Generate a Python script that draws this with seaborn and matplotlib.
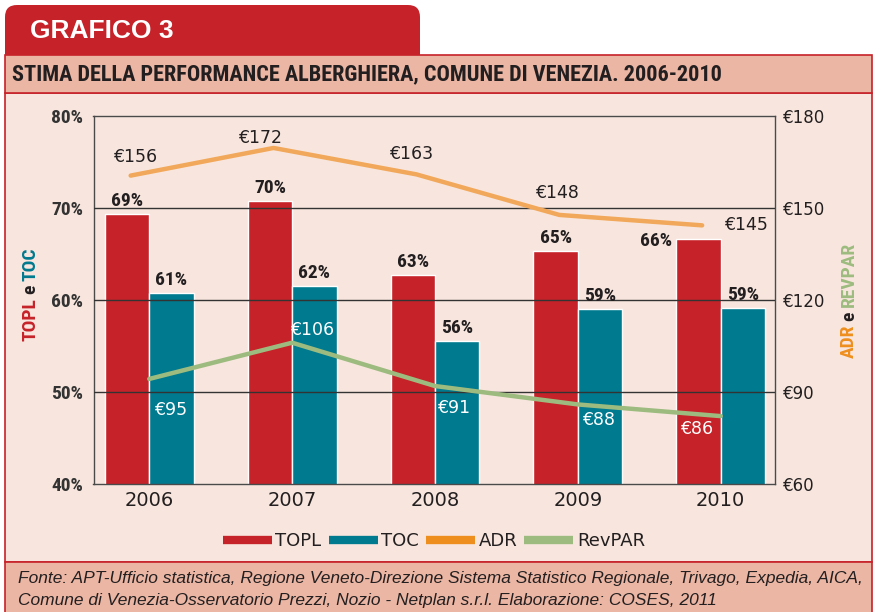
import numpy as np
import pandas as pd
import matplotlib
matplotlib.use("Agg")
import matplotlib.pyplot as plt
import seaborn as sns
from matplotlib.patches import Rectangle, FancyBboxPatch
from matplotlib.lines import Line2D

# ---- data ----
years = ["2006", "2007", "2008", "2009", "2010"]
topl = [69.3, 70.7, 62.7, 65.3, 66.6]
toc = [60.8, 61.5, 55.5, 59.0, 59.1]
adr = [160.5, 169.5, 160.9, 147.7, 144.3]
revpar = [94.3, 106.1, 92.0, 86.0, 82.2]
topl_labels = ["69%", "70%", "63%", "65%", "66%"]
toc_labels = ["61%", "62%", "56%", "59%", "59%"]
adr_labels = ["€156", "€172", "€163", "€148", "€145"]
revpar_labels = ["€95", "€106", "€91", "€88", "€86"]

RED = "#C62229"
TEAL = "#007A8F"
ORANGE = "#F2A85A"
ORANGE_LEG = "#EE8E1E"
GREEN = "#9DBB7F"
DARK = "#231F20"
BAND = "#EBB6A4"
PANEL = "#F8E6DE"

W, H = 874, 612
NARROW = ["Liberation Sans Narrow", "Roboto Condensed", "Liberation Sans", "DejaVu Sans"]
PLAIN = ["Liberation Sans", "DejaVu Sans"]

sns.set_style("white")
plt.rcParams["font.family"] = ["DejaVu Sans"]

fig = plt.figure(figsize=(W / 100, H / 100), dpi=100)
fig.patch.set_facecolor("white")
inch = fig.dpi_scale_trans


def box(x0, y0, x1, y1, **kw):
    # pixel coords, origin top-left
    r = Rectangle((x0 / 100, (H - y1) / 100), (x1 - x0) / 100, (y1 - y0) / 100,
                  transform=inch, zorder=-5, **kw)
    fig.add_artist(r)
    return r


# header tab (rounded), bands and panel
tab = FancyBboxPatch((5 / 100, (H - 70) / 100), 415 / 100, 65 / 100,
                     boxstyle="round,pad=0,rounding_size=0.12",
                     transform=inch, facecolor=RED, edgecolor="none", zorder=-6)
fig.add_artist(tab)
box(5, 93, 872, 562, facecolor=PANEL, edgecolor=RED, lw=1.2)
box(5, 55, 872, 93, facecolor=BAND, edgecolor=RED, lw=1.2)
box(5, 562, 872, 613, facecolor=BAND, edgecolor=RED, lw=1.2)

fig.text(30 / W, 1 - 31 / H, "GRAFICO 3", color="white", fontsize=19,
         fontweight="bold", family=PLAIN, ha="left", va="center")
fig.text(12 / W, 1 - 74 / H,
         "STIMA DELLA PERFORMANCE ALBERGHIERA, COMUNE DI VENEZIA. 2006-2010",
         color=DARK, fontsize=16, fontweight="bold", family=NARROW,
         ha="left", va="center")
fig.text(18 / W, 1 - 579 / H,
         "Fonte: APT-Ufficio statistica, Regione Veneto-Direzione Sistema Statistico "
         "Regionale, Trivago, Expedia, AICA,",
         color=DARK, fontsize=12.5, style="italic", family=PLAIN,
         ha="left", va="center")
fig.text(18 / W, 1 - 601 / H,
         "Comune di Venezia-Osservatorio Prezzi, Nozio - Netplan s.r.l. "
         "Elaborazione: COSES, 2011",
         color=DARK, fontsize=12.5, style="italic", family=PLAIN,
         ha="left", va="center")

# ---- main axes ----
ax = fig.add_axes([93.5 / W, 1 - 484.3 / H, (775 - 93.5) / W, (484.3 - 115.7) / H])
ax.patch.set_alpha(0)

df = pd.DataFrame({
    "year": years * 2,
    "value": topl + toc,
    "serie": ["TOPL"] * len(years) + ["TOC"] * len(years),
})
sns.barplot(data=df, x="year", y="value", hue="serie", palette=[RED, TEAL],
            width=0.622, saturation=1, ax=ax, zorder=1)
ax.get_legend().remove()
ax.set_ylim(40, 80)
ax.set_xlim(-0.39, 4.38)
ax.set_yticks([40, 50, 60, 70, 80])
ax.set_yticklabels([f"{v}%" for v in [40, 50, 60, 70, 80]])
ax.set_xlabel("")
ax.set_ylabel("")
for y in [50, 60, 70]:
    ax.axhline(y, color="#333333", lw=1.0, zorder=3)
for s in ax.spines.values():
    s.set_visible(True)
    s.set_color("#4a4a4a")
    s.set_linewidth(1.0)
ax.tick_params(axis="y", length=0, pad=7.5, labelsize=14, labelcolor="#333333")
ax.tick_params(axis="x", length=0, pad=5, labelsize=14, labelcolor=DARK)
for t in ax.get_yticklabels():
    t.set_fontweight("bold")
    t.set_family(NARROW)

# bar value labels
bar_offsets = {("TOPL", 4): (-42, -2)}
for cont, labs, name in [(ax.containers[0], topl_labels, "TOPL"),
                         (ax.containers[1], toc_labels, "TOC")]:
    for i, (p, lab) in enumerate(zip(cont, labs)):
        dx, dy = bar_offsets.get((name, i), (0, 13))
        ax.annotate(lab, (p.get_x() + p.get_width() / 2, p.get_height()),
                    xytext=(dx, dy), textcoords="offset pixels",
                    ha="center", va="center", fontsize=14, fontweight="bold",
                    family=NARROW, color=DARK, zorder=5)

# ---- right axis: ADR / RevPAR ----
ax2 = ax.twinx()
x = np.arange(len(years))
sns.lineplot(x=x - 0.13, y=adr, ax=ax2, color=ORANGE, lw=3.2, zorder=4)
sns.lineplot(x=x, y=revpar, ax=ax2, color=GREEN, lw=3.2, zorder=4)
ax2.set_ylim(60, 180)
ax2.set_yticks([60, 90, 120, 150, 180])
ax2.set_yticklabels([f"€{v}" for v in [60, 90, 120, 150, 180]])
ax2.tick_params(axis="y", length=0, pad=6, labelsize=12, labelcolor=DARK)
for s in ax2.spines.values():
    s.set_visible(False)

adr_off = [(4, 19), (-14, 10), (-5, 20), (-2, 22), (22, 0)]
for i, (v, lab) in enumerate(zip(adr, adr_labels)):
    ha = "left" if i == len(adr) - 1 else "center"
    ax2.annotate(lab, (x[i] - 0.13, v), xytext=adr_off[i],
                 textcoords="offset pixels", ha=ha, va="center",
                 fontsize=12.5, color=DARK, zorder=6)

rev_off = [(21, -31), (20, 13), (19, -22), (21, -16), (-24, -13)]
for i, (v, lab) in enumerate(zip(revpar, revpar_labels)):
    ax2.annotate(lab, (x[i], v), xytext=rev_off[i],
                 textcoords="offset pixels", ha="center", va="center",
                 fontsize=12.5, color="white", zorder=6)

# ---- multi-coloured rotated axis titles ----
renderer = fig.canvas.get_renderer()


def stacked(xc, yc, parts, **kw):
    texts = [fig.text(xc / W, 0, s, color=c, rotation=90, ha="center",
                      va="bottom", **kw) for s, c in parts]
    gap = 4
    hs = [t.get_window_extent(renderer).height for t in texts]
    total = sum(hs) + gap * (len(hs) - 1)
    y = (H - yc) - total / 2
    for t, h in zip(texts, hs):
        t.set_y(y / H)
        y += h + gap


stacked(30, 294, [("TOPL", RED), ("e", DARK), ("TOC", TEAL)],
        fontsize=14, fontweight="bold", family=NARROW)
stacked(849, 300, [("ADR", ORANGE_LEG), ("e", DARK), ("REVPAR", GREEN)],
        fontsize=14, fontweight="bold", family=NARROW)

# ---- legend ----
handles = [Line2D([], [], color=c, lw=6, solid_capstyle="butt")
           for c in [RED, TEAL, ORANGE_LEG, GREEN]]
fig.legend(handles, ["TOPL", "TOC", "ADR", "RevPAR"], loc="center",
           bbox_to_anchor=(434 / W, 1 - 541 / H), ncol=4, frameon=False,
           fontsize=13, handlelength=2.7, handletextpad=0.2,
           columnspacing=0.4, labelcolor=DARK)

fig.savefig("out.png", dpi=100)
